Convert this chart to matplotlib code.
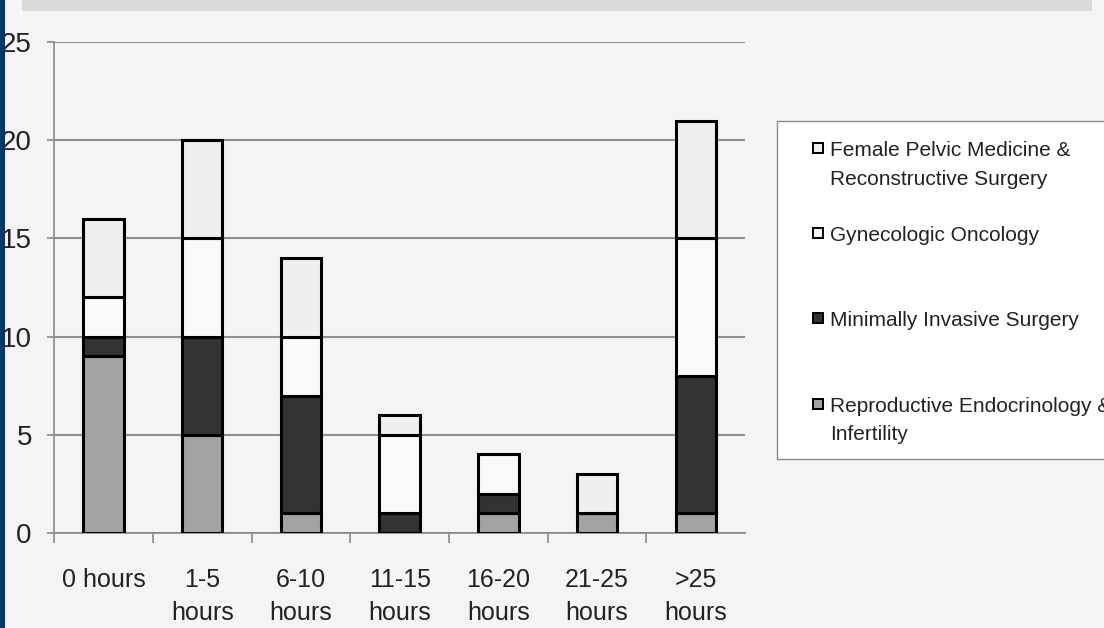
import matplotlib
matplotlib.use("Agg")
import matplotlib.pyplot as plt
from matplotlib.patches import Rectangle
import numpy as np

plt.rcParams['font.family'] = ['Liberation Sans', 'DejaVu Sans']

categories = ['0 hours', '1-5\nhours', '6-10\nhours', '11-15\nhours',
              '16-20\nhours', '21-25\nhours', '>25\nhours']
rei = [9, 5, 1, 0, 1, 1, 1]
mis = [1, 5, 6, 1, 1, 0, 7]
gyn_onc = [2, 5, 3, 4, 2, 0, 7]
fpmrs = [4, 5, 4, 1, 0, 2, 6]

# stacked bottom to top
series = [
    (['Reproductive Endocrinology &', 'Infertility'], rei, '#a3a3a3'),
    (['Minimally Invasive Surgery'], mis, '#333333'),
    (['Gynecologic Oncology'], gyn_onc, '#f9f9f9'),
    (['Female Pelvic Medicine &', 'Reconstructive Surgery'], fpmrs, '#efefef'),
]

bg = '#f4f4f4'
txt = '#222222'
W, H = 1104, 628
fig = plt.figure(figsize=(W / 100, H / 100), dpi=100, facecolor=bg)
ax = fig.add_axes([0.049, 0.1513, 0.626, 0.7818], facecolor=bg)

x = np.arange(len(categories))
bottom = np.zeros(len(categories))
for name, vals, col in series:
    vals = np.array(vals, dtype=float)
    ax.bar(x, vals, 0.41, bottom=bottom, color=col, edgecolor='black',
           linewidth=2.2, zorder=3)
    bottom += vals

ax.set_xlim(-0.5, len(categories) - 0.5)
ax.set_ylim(0, 25)
ax.set_yticks([0, 5, 10, 15, 20, 25])
ax.yaxis.grid(True, color='#8f8f8f', linewidth=1.5, zorder=0)
ax.set_axisbelow(True)

for s in ['top', 'right']:
    ax.spines[s].set_visible(False)
for s in ['left', 'bottom']:
    ax.spines[s].set_color('#8a8a8a')
    ax.spines[s].set_linewidth(1.2)

ax.set_xticks(x)
ax.set_xticklabels(categories, fontsize=18, color=txt, linespacing=1.5)
ax.set_xticks(np.arange(len(categories)) - 0.5, minor=True)
ax.tick_params(axis='x', which='major', length=0, pad=25)
ax.tick_params(axis='x', which='minor', length=7, width=1.2, color='#8a8a8a')
ax.tick_params(axis='y', length=5, width=1.2, color='#8a8a8a', pad=11,
               labelsize=20, labelcolor=txt)

# dark strip on the left and grey banner at the top
fig.add_artist(Rectangle((0, 0), 5 / W, 1, transform=fig.transFigure,
                         facecolor='#00386b', edgecolor='none'))
fig.add_artist(Rectangle((22 / W, 1 - 11 / H), 1070 / W, 11 / H,
                         transform=fig.transFigure, facecolor='#d9d9d9',
                         edgecolor='none'))

# legend box, runs past the right edge
fig.add_artist(Rectangle((777 / W, 1 - 459 / H), 340 / W, 338 / H,
                         transform=fig.transFigure, facecolor='white',
                         edgecolor='#8a8a8a', linewidth=1.0))
legend_rows = [
    (series[3], 148),
    (series[2], 233),
    (series[1], 318),
    (series[0], 404),
]
fs = 15
for (lines, vals, col), ypix in legend_rows:
    fig.add_artist(Rectangle((813 / W, 1 - (ypix + 5) / H), 10 / W, 10 / H,
                             transform=fig.transFigure, facecolor=col,
                             edgecolor='black', linewidth=1.4))
    for k, line in enumerate(lines):
        yc = ypix + 29 * k
        fig.text(830 / W, 1 - (yc + 7.5) / H, line, fontsize=fs,
                 color=txt, va='baseline', ha='left')

fig.savefig('out.png', dpi=100, facecolor=bg)
